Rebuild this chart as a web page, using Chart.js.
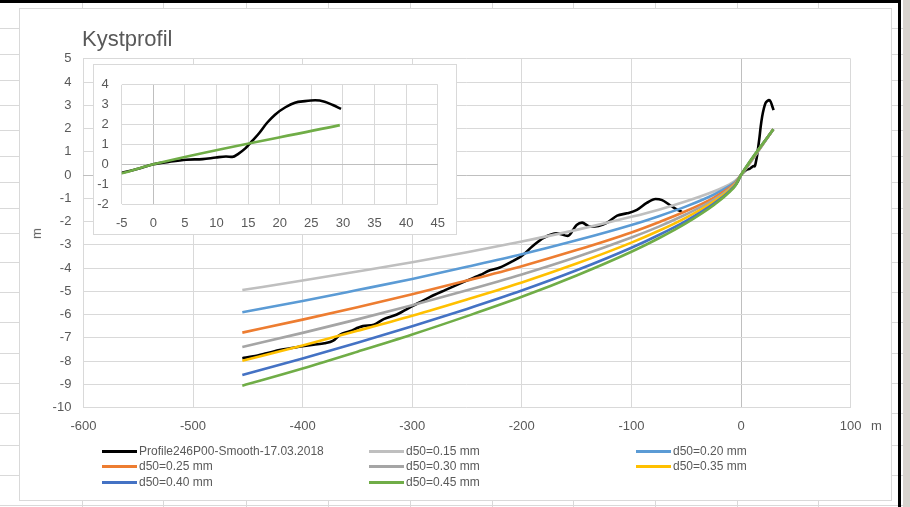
<!DOCTYPE html>
<html>
<head>
<meta charset="utf-8">
<script src="https://cdn.jsdelivr.net/npm/chart.js@4.4.1/dist/chart.umd.min.js"></script>
<style>
  html, body { margin:0; padding:0; }
  body { width:910px; height:507px; position:relative; overflow:hidden; background:#fff; font-family:"Liberation Sans", Arial, sans-serif; }
  .abs { position:absolute; }
  .vl { position:absolute; top:0; width:1px; height:507px; background:#D9D9D9; }
  .hl { position:absolute; left:0; height:1px; width:910px; background:#D9D9D9; }
  #box { left:19px; top:8px; width:873px; height:493px; box-sizing:border-box; border:1px solid #D9D9D9; background:#fff; }
  #title { left:82px; top:28px; font-size:22px; line-height:22px; color:#595959; white-space:nowrap; }
  .axt { font-size:13px; line-height:13px; color:#595959; }
  #insetBox { left:93px; top:64px; width:364px; height:171px; box-sizing:border-box; border:1px solid #D9D9D9; background:#fff; }
  #legend { left:0; top:0; }
  .li { position:absolute; height:14px; font-size:12px; line-height:14px; color:#595959; white-space:nowrap; }
  .li span.sw { position:absolute; left:0; top:5.5px; width:35px; height:3px; }
  .li span.tx { position:absolute; left:37px; top:0; }
</style>
</head>
<body>
<div id="sheet"></div>
<div id="box" class="abs"></div>
<canvas id="main" class="abs" width="910" height="507" style="left:0;top:0;width:910px;height:507px"></canvas>
<div id="insetBox" class="abs"></div>
<canvas id="inset" class="abs" width="364" height="171" style="left:93px;top:64px;width:364px;height:171px"></canvas>
<div id="title" class="abs">Kystprofil</div>
<div class="abs axt" style="left:871px;top:419px;">m</div>
<div class="abs axt" style="left:31px;top:227px;transform:rotate(-90deg);">m</div>
<div id="legend" class="abs"></div>
<script>
// ---------------- DATA ----------------
const seriesNames = [
  "Profile246P00-Smooth-17.03.2018",
  "d50=0.15 mm", "d50=0.20 mm", "d50=0.25 mm",
  "d50=0.30 mm", "d50=0.35 mm", "d50=0.40 mm", "d50=0.45 mm"
];
const seriesColors = ["#000000", "#BFBFBF", "#5B9BD5", "#ED7D31", "#A5A5A5", "#FFC000", "#4472C4", "#70AD47"];

// measured profile (distance m, level m); null = no data
const profileX = [-455,-445,-433,-420,-402,-390,-380,-372,-366,-357,-345,-335,-326,-314,-299,-284,-270,-256,-238,-229,-220,-210,-199,-190,-180,-168,-158,-150,-145,-138,-130,-122,-113,-104,-95,-86,-78,-72,-65,-58,-54,
                  -30,
                  -5,-2.4,0,2.4,5.2,7.8,9.9,11.5,12.5,13.5,14.6,15.4,16.7,18,19.3,20.9,22.4,24,25.6,27.1,28.4,29.7];
const profileY = [-7.88,-7.80,-7.67,-7.52,-7.38,-7.30,-7.24,-7.12,-6.88,-6.72,-6.50,-6.44,-6.20,-6.00,-5.62,-5.25,-4.95,-4.66,-4.30,-4.10,-3.98,-3.75,-3.44,-3.05,-2.70,-2.51,-2.62,-2.15,-2.05,-2.22,-2.19,-2.05,-1.75,-1.65,-1.50,-1.20,-1.03,-1.08,-1.29,-1.50,-1.58,
                  null,
                  -0.43,-0.23,0.00,0.12,0.23,0.26,0.34,0.39,0.37,0.54,0.81,1.09,1.55,2.09,2.51,2.87,3.10,3.18,3.22,3.15,2.98,2.79];

// equilibrium profiles, common distances
const d50X  = [-455,-400,-350,-300,-250,-200,-150,-100,-75,-50,-25,-10,-5,0,29.5];
const d015Y = [-4.95,-4.54,-4.15,-3.75,-3.32,-2.86,-2.36,-1.80,-1.49,-1.13,-0.71,-0.39,-0.24,0,1.97];
const d020Y = [-5.90,-5.42,-4.95,-4.47,-3.95,-3.41,-2.81,-2.15,-1.77,-1.35,-0.85,-0.46,-0.29,0,1.97];
const d025Y = [-6.78,-6.22,-5.69,-5.13,-4.54,-3.92,-3.23,-2.47,-2.03,-1.55,-0.98,-0.53,-0.33,0,1.97];
const d030Y = [-7.40,-6.79,-6.21,-5.60,-4.96,-4.28,-3.53,-2.69,-2.22,-1.69,-1.07,-0.58,-0.36,0,1.97];
const d035Y = [-7.99,-7.33,-6.70,-6.05,-5.35,-4.62,-3.81,-2.91,-2.40,-1.83,-1.15,-0.62,-0.39,0,1.97];
const d040Y = [-8.60,-7.89,-7.22,-6.51,-5.76,-4.97,-4.10,-3.13,-2.58,-1.97,-1.24,-0.67,-0.42,0,1.97];
const d045Y = [-9.06,-8.32,-7.60,-6.86,-6.07,-5.24,-4.32,-3.30,-2.72,-2.07,-1.30,-0.71,-0.45,0,1.97];

// axis ticks
const mainXTicks = [-600,-500,-400,-300,-200,-100,0,100];
const mainYTicks = [5,4,3,2,1,0,-1,-2,-3,-4,-5,-6,-7,-8,-9,-10];
const insetXTicks = [-5,0,5,10,15,20,25,30,35,40,45];
const insetYTicks = [4,3,2,1,0,-1,-2];

// ---------------- SHEET BACKGROUND ----------------
(function(){
  const sheet = document.getElementById('sheet');
  [82,163,246,328,410,492,573,655,737,818].forEach(x => {
    const d = document.createElement('div'); d.className='vl'; d.style.left = x+'px'; sheet.appendChild(d);
  });
  [28,54,80,105,130,156,182,208,233,262,292,322,353,383,413,445,475,505].forEach(y => {
    const d = document.createElement('div'); d.className='hl'; d.style.top = y+'px'; sheet.appendChild(d);
  });
  const add = (css) => { const d=document.createElement('div'); d.className='abs'; Object.assign(d.style, css); sheet.appendChild(d); };
  add({left:'0px', top:'0px', width:'901px', height:'3px', background:'#000'});
  add({left:'898px', top:'0px', width:'3px', height:'507px', background:'#000'});
  add({left:'903px', top:'0px', width:'7px', height:'507px', background:'#D8D3CE'});
})();

// ---------------- CHARTS ----------------
const ys = [profileY, d015Y, d020Y, d025Y, d030Y, d035Y, d040Y, d045Y];
function pts(xs, yv) { return xs.map((x, i) => ({x: x, y: yv[i]})); }

function makeDatasets(indices) {
  return indices.map(i => ({
    label: seriesNames[i],
    data: i === 0 ? pts(profileX, profileY) : pts(d50X, ys[i]),
    borderColor: seriesColors[i],
    backgroundColor: seriesColors[i],
    borderWidth: 2.6,
    pointRadius: 0,
    showLine: true,
    fill: false,
    spanGaps: false,
    cubicInterpolationMode: 'monotone',
    order: 10 - i
  }));
}

const font13 = { family: "'Liberation Sans', Arial, sans-serif", size: 13 };
const gridColor = c => (c.tick && c.tick.value === 0) ? '#BFBFBF' : '#D9D9D9';

function axisCommon(ticksArr, min, max, step, pad) {
  return {
    type: 'linear', min: min, max: max,
    afterBuildTicks: s => { s.ticks = ticksArr.map(v => ({value: v})); },
    ticks: { stepSize: step, color: '#595959', font: font13, padding: pad, autoSkip: false, maxRotation: 0 },
    grid: { color: gridColor, lineWidth: 1, drawTicks: false },
    border: { display: false }
  };
}

const mainX = axisCommon(mainXTicks, -600, 100, 100, 11);
mainX.afterFit = s => { s.height = 30; };
const mainY = axisCommon(mainYTicks, -10, 5, 1, 12);
mainY.afterFit = s => { s.width = 83.4; };

new Chart(document.getElementById('main'), {
  type: 'scatter',
  data: { datasets: makeDatasets([0,1,2,3,4,5,6,7]) },
  options: {
    responsive: false, animation: false, devicePixelRatio: 1,
    layout: { padding: { left: 0, top: 58.75, right: 59.4, bottom: 69.5 } },
    plugins: { legend: { display: false }, tooltip: { enabled: false }, title: { display: false } },
    scales: { x: mainX, y: mainY }
  }
});

const inX = axisCommon(insetXTicks, -5, 45, 5, 12);
inX.afterFit = s => { s.height = 31; };
const inY = axisCommon(insetYTicks, -2, 4, 1, 13);
inY.afterFit = s => { s.width = 28.7; };

new Chart(document.getElementById('inset'), {
  type: 'scatter',
  data: { datasets: makeDatasets([0,7]) },
  options: {
    responsive: false, animation: false, devicePixelRatio: 1,
    layout: { padding: { left: 0, top: 11, right: 16.3, bottom: 0 } },
    plugins: { legend: { display: false }, tooltip: { enabled: false } },
    scales: { x: inX, y: inY }
  }
});

// ---------------- LEGEND (3 columns) ----------------
(function(){
  const lg = document.getElementById('legend');
  const colX = [102, 369, 636];
  const rowY = [444, 459, 475];
  seriesNames.forEach((name, i) => {
    const d = document.createElement('div'); d.className = 'li';
    d.style.left = colX[i % 3] + 'px'; d.style.top = rowY[Math.floor(i / 3)] + 'px';
    const sw = document.createElement('span'); sw.className = 'sw'; sw.style.background = seriesColors[i];
    const tx = document.createElement('span'); tx.className = 'tx'; tx.textContent = name;
    d.appendChild(sw); d.appendChild(tx); lg.appendChild(d);
  });
})();
</script>
</body>
</html>
